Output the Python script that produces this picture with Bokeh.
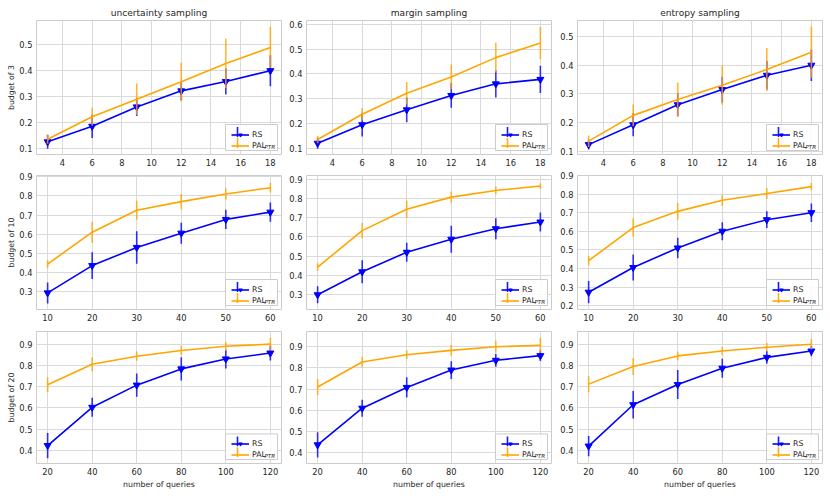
import numpy as np
from bokeh.plotting import figure
from bokeh.layouts import gridplot
from bokeh.models import (ColumnDataSource, Range1d, SingleIntervalTicker, Legend,
                          LegendItem, Label, BoxAnnotation)
from bokeh.embed import file_html
from bokeh.resources import INLINE

# ---------------- data ----------------
strategies = ["uncertainty sampling", "margin sampling", "entropy sampling"]
budgets = ["budget of 3", "budget of 10", "budget of 20"]

queries_b3 = [3, 6, 9, 12, 15, 18]
queries_b10 = [10, 20, 30, 40, 50, 60]
queries_b20 = [20, 40, 60, 80, 100, 120]

# budget 3
rs_unc_b3 = [0.125, 0.185, 0.260, 0.322, 0.358, 0.400]
rs_unc_b3_err = [0.027, 0.045, 0.035, 0.037, 0.050, 0.060]
pal_unc_b3 = [0.135, 0.222, 0.290, 0.357, 0.428, 0.490]
pal_unc_b3_err = [0.017, 0.035, 0.060, 0.075, 0.095, 0.080]

rs_mar_b3 = [0.120, 0.195, 0.255, 0.313, 0.360, 0.378]
rs_mar_b3_err = [0.022, 0.048, 0.050, 0.050, 0.055, 0.055]
pal_mar_b3 = [0.135, 0.237, 0.322, 0.388, 0.466, 0.525]
pal_mar_b3_err = [0.015, 0.025, 0.045, 0.050, 0.060, 0.065]

rs_ent_b3 = [0.123, 0.192, 0.262, 0.315, 0.365, 0.400]
rs_ent_b3_err = [0.017, 0.040, 0.040, 0.045, 0.050, 0.055]
pal_ent_b3 = [0.135, 0.225, 0.280, 0.330, 0.385, 0.445]
pal_ent_b3_err = [0.020, 0.038, 0.060, 0.068, 0.075, 0.090]

# budget 10
rs_unc_b10 = [0.292, 0.435, 0.530, 0.605, 0.677, 0.715]
rs_unc_b10_err = [0.055, 0.070, 0.085, 0.055, 0.050, 0.050]
pal_unc_b10 = [0.443, 0.610, 0.725, 0.770, 0.810, 0.843]
pal_unc_b10_err = [0.020, 0.055, 0.050, 0.040, 0.030, 0.025]

rs_mar_b10 = [0.298, 0.418, 0.520, 0.588, 0.643, 0.678]
rs_mar_b10_err = [0.045, 0.060, 0.050, 0.070, 0.055, 0.050]
pal_mar_b10 = [0.442, 0.633, 0.745, 0.808, 0.843, 0.866]
pal_mar_b10_err = [0.020, 0.040, 0.045, 0.030, 0.020, 0.015]

rs_ent_b10 = [0.272, 0.405, 0.510, 0.600, 0.662, 0.700]
rs_ent_b10_err = [0.060, 0.070, 0.055, 0.048, 0.045, 0.050]
pal_ent_b10 = [0.442, 0.620, 0.707, 0.767, 0.803, 0.840]
pal_ent_b10_err = [0.025, 0.050, 0.045, 0.030, 0.030, 0.020]

# budget 20
rs_unc_b20 = [0.422, 0.603, 0.708, 0.785, 0.832, 0.860]
rs_unc_b20_err = [0.060, 0.045, 0.055, 0.055, 0.045, 0.035]
pal_unc_b20 = [0.710, 0.807, 0.845, 0.872, 0.892, 0.902]
pal_unc_b20_err = [0.035, 0.033, 0.022, 0.022, 0.022, 0.030]

rs_mar_b20 = [0.437, 0.610, 0.708, 0.790, 0.836, 0.858]
rs_mar_b20_err = [0.060, 0.040, 0.048, 0.042, 0.030, 0.025]
pal_mar_b20 = [0.710, 0.828, 0.862, 0.883, 0.900, 0.907]
pal_mar_b20_err = [0.038, 0.025, 0.020, 0.025, 0.028, 0.035]

rs_ent_b20 = [0.420, 0.615, 0.710, 0.787, 0.838, 0.868]
rs_ent_b20_err = [0.048, 0.065, 0.068, 0.045, 0.030, 0.025]
pal_ent_b20 = [0.712, 0.795, 0.845, 0.868, 0.886, 0.900]
pal_ent_b20_err = [0.038, 0.040, 0.020, 0.020, 0.020, 0.025]

# ---------------- style ----------------
FONT = "DejaVu Sans"
TXT = "#262626"
GRID = "#dadada"
BLUE = "#0000ff"
ORANGE = "#ffa500"

panels = [
    [(queries_b3, rs_unc_b3, rs_unc_b3_err, pal_unc_b3, pal_unc_b3_err),
     (queries_b3, rs_mar_b3, rs_mar_b3_err, pal_mar_b3, pal_mar_b3_err),
     (queries_b3, rs_ent_b3, rs_ent_b3_err, pal_ent_b3, pal_ent_b3_err)],
    [(queries_b10, rs_unc_b10, rs_unc_b10_err, pal_unc_b10, pal_unc_b10_err),
     (queries_b10, rs_mar_b10, rs_mar_b10_err, pal_mar_b10, pal_mar_b10_err),
     (queries_b10, rs_ent_b10, rs_ent_b10_err, pal_ent_b10, pal_ent_b10_err)],
    [(queries_b20, rs_unc_b20, rs_unc_b20_err, pal_unc_b20, pal_unc_b20_err),
     (queries_b20, rs_mar_b20, rs_mar_b20_err, pal_mar_b20, pal_mar_b20_err),
     (queries_b20, rs_ent_b20, rs_ent_b20_err, pal_ent_b20, pal_ent_b20_err)],
]

x_ranges = [(2.25, 18.75), (7.5, 62.5), (15, 125)]
x_intervals = [2, 10, 20]
y_ranges = [
    [(0.076, 0.594), (0.0745, 0.616), (0.0885, 0.556)],
    [(0.205, 0.907), (0.221, 0.921), (0.179, 0.900)],
    [(0.337, 0.962), (0.349, 0.972), (0.338, 0.960)],
]

# figure sizes (fixed) and borders
left_b = [36, 20, 21]
right_b = [5, 5, 6]
top_b = [20, 5, 5]
bottom_b = [16, 17, 26]
FW, FH = 245, 134
widths = [left_b[c] + FW + right_b[c] for c in range(3)]
heights = [top_b[r] + FH + bottom_b[r] for r in range(3)]

# legend geometry (px)
LG_MARGIN, LG_PAD, LG_SPACING = 4, 3, 2
LG_GLYPH_W, LG_ROW_H, LG_LABEL_W, LG_STANDOFF = 18, 9, 25, 3
LG_W = 2 * LG_PAD + LG_GLYPH_W + LG_STANDOFF + LG_LABEL_W
LG_H = 2 * LG_PAD + 2 * LG_ROW_H + LG_SPACING


def make_panel(row, col):
    x, rs, rs_err, pal, pal_err = panels[row][col]
    xr, yr = x_ranges[row], y_ranges[row][col]
    p = figure(width=widths[col], height=heights[row],
               x_range=Range1d(*xr), y_range=Range1d(*yr),
               title=strategies[col] if row == 0 else None,
               output_backend="svg", toolbar_location=None,
               min_border_left=left_b[col], min_border_right=right_b[col],
               min_border_top=top_b[row], min_border_bottom=bottom_b[row],
               background_fill_color="white", border_fill_color="white")
    if row == 0:
        p.title.text_font = FONT
        p.title.text_font_size = "9.1px"
        p.title.text_font_style = "normal"
        p.title.text_color = TXT
        p.title.align = "center"
        p.title.standoff = 5

    xa = np.array(x, dtype=float)
    rs_a, rs_e = np.array(rs), np.array(rs_err)
    pal_a, pal_e = np.array(pal), np.array(pal_err)
    src_rs = ColumnDataSource(dict(x=xa, y=rs_a, lo=rs_a - rs_e, hi=rs_a + rs_e))
    src_pal = ColumnDataSource(dict(x=xa, y=pal_a, lo=pal_a - pal_e, hi=pal_a + pal_e))

    # RS
    p.segment(x0="x", y0="lo", x1="x", y1="hi", source=src_rs,
              line_color=BLUE, line_width=1.6, line_alpha=0.8)
    rs_line = p.line("x", "y", source=src_rs, line_color=BLUE, line_width=1.6)
    rs_mark = p.scatter("x", "y", source=src_rs, marker="inverted_triangle", size=7,
                        fill_color=BLUE, line_color=BLUE)

    # PAL
    p.segment(x0="x", y0="lo", x1="x", y1="hi", source=src_pal,
              line_color=ORANGE, line_width=1.6, line_alpha=0.8)
    pal_line = p.line("x", "y", source=src_pal, line_color=ORANGE, line_width=1.6)

    # legend frame (drawn as annotation so that extras can sit on top of it)
    dx = (xr[1] - xr[0]) / FW   # data units per px
    dy = (yr[1] - yr[0]) / FH
    lg_left = FW - LG_MARGIN - LG_W
    p.add_layout(BoxAnnotation(left=xr[0] + lg_left * dx, right=xr[1] - LG_MARGIN * dx,
                               bottom=yr[0] + LG_MARGIN * dy,
                               top=yr[0] + (LG_MARGIN + LG_H) * dy,
                               fill_color="white", fill_alpha=0.85,
                               line_color="#cccccc", line_width=1, line_alpha=1))

    legend = Legend(items=[LegendItem(label="RS", renderers=[rs_line, rs_mark]),
                           LegendItem(label="PAL", renderers=[pal_line])],
                    location="bottom_right", margin=LG_MARGIN, padding=LG_PAD,
                    spacing=LG_SPACING, glyph_width=LG_GLYPH_W, glyph_height=LG_ROW_H,
                    label_height=LG_ROW_H, label_width=LG_LABEL_W,
                    label_standoff=LG_STANDOFF, label_text_font=FONT,
                    label_text_font_size="7.8px", label_text_color=TXT,
                    border_line_color=None, background_fill_alpha=0)
    p.add_layout(legend)

    # legend extras: subscript "PTR" and vertical error-bar ticks of the handles
    glyph_cx = lg_left + LG_PAD + LG_GLYPH_W / 2
    pal_cy = LG_MARGIN + LG_PAD + LG_ROW_H / 2
    rs_cy = pal_cy + LG_ROW_H + LG_SPACING
    for cy, c in ((rs_cy, BLUE), (pal_cy, ORANGE)):
        p.add_layout(BoxAnnotation(left=xr[0] + (glyph_cx - 0.8) * dx,
                                   right=xr[0] + (glyph_cx + 0.8) * dx,
                                   bottom=yr[0] + (cy - 5) * dy, top=yr[0] + (cy + 5) * dy,
                                   fill_color=c, fill_alpha=0.9, line_color=None))
    p.add_layout(Label(x=xr[1] - 17 * dx, y=yr[0] + (pal_cy - 4.2) * dy,
                       text="PTR", text_font=FONT, text_font_size="5.6px",
                       text_font_style="italic", text_color=TXT,
                       text_baseline="alphabetic"))

    p.xaxis.ticker = SingleIntervalTicker(interval=x_intervals[row], num_minor_ticks=0)
    p.yaxis.ticker = SingleIntervalTicker(interval=0.1, num_minor_ticks=0)
    for ax in p.axis:
        ax.axis_line_color = None
        ax.major_tick_line_color = None
        ax.minor_tick_line_color = None
        ax.major_tick_out = 0
        ax.major_tick_in = 0
        ax.major_label_text_font = FONT
        ax.major_label_text_font_size = "8.3px"
        ax.major_label_text_color = TXT
        ax.axis_label_text_font = FONT
        ax.axis_label_text_font_size = "7.8px"
        ax.axis_label_text_font_style = "normal"
        ax.axis_label_text_color = TXT
    p.xaxis.major_label_standoff = 4
    p.xaxis.axis_label_standoff = 2
    p.yaxis.major_label_standoff = 4
    p.yaxis.axis_label_standoff = 0
    if col == 0:
        p.yaxis.axis_label = budgets[row]
    if row == 2:
        p.xaxis.axis_label = "number of queries"

    p.xgrid.grid_line_color = GRID
    p.ygrid.grid_line_color = GRID
    p.outline_line_color = "#cccccc"
    p.outline_line_width = 1
    return p


grid = gridplot([[make_panel(r, c) for c in range(3)] for r in range(3)],
                toolbar_location=None)

open("out.html", "w").write(file_html(grid, INLINE))
